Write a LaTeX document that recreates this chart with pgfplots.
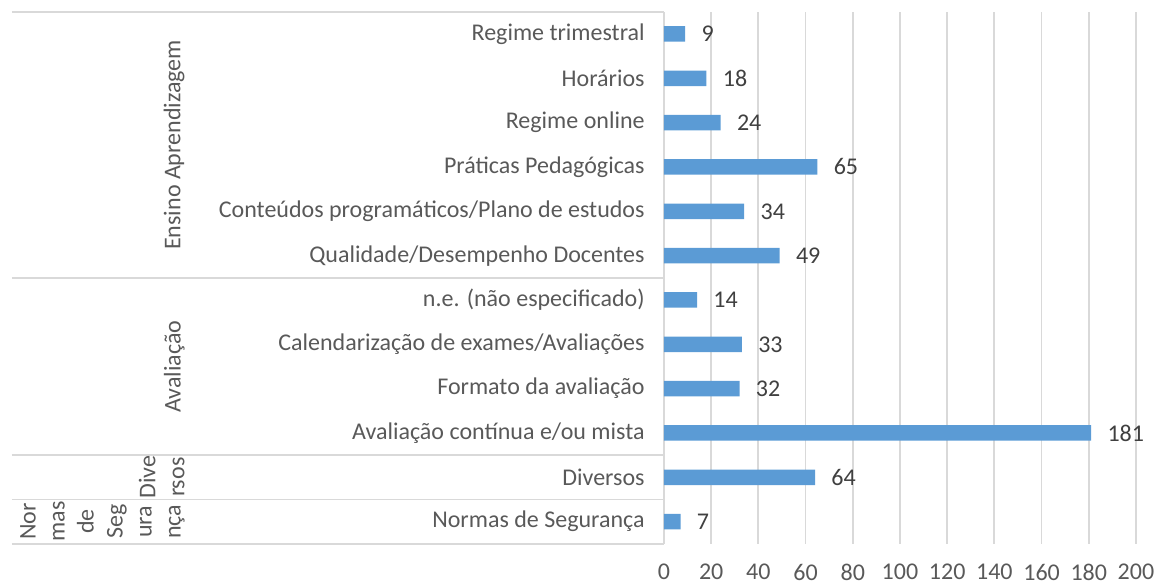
\documentclass[border=0pt]{standalone}
\usepackage{pgfplots}
\pgfplotsset{compat=1.18}
\usepackage{pgfplotstable}
\usepackage{fontspec}
\setmainfont{Carlito}
\definecolor{barblue}{HTML}{5B9BD5}
\definecolor{txt}{HTML}{595959}
\definecolor{lbl}{HTML}{404040}
\definecolor{grd}{HTML}{D9D9D9}
\pgfplotstableread{
i v
0 7
1 64
2 181
3 32
4 33
5 14
6 49
7 34
8 65
9 24
10 18
11 9
}\datatab
\begin{document}
\begin{tikzpicture}
\begin{axis}[
  name=ax,
  scale only axis,
  width=236pt, height=266pt,
  xmin=0, xmax=200,
  ymin=-0.5, ymax=11.5,
  xtick={0,20,...,200},
  ytick={0,...,11},
  yticklabels={Normas de Segurança, Diversos, Avaliação contínua e/ou mista, Formato da avaliação, Calendarização de exames/Avaliações, n.e. (não especificado), Qualidade/Desempenho Docentes, Conteúdos programáticos/Plano de estudos, Práticas Pedagógicas, Regime online, {Horários\ }, Regime trimestral},
  axis line style={draw=none},
  major tick length=0pt,
  xmajorgrids,
  grid style={grd, line width=0.9pt},
  /pgf/number format/assume math mode=true,
  tick label style={font=\fontsize{12}{14}\selectfont, text=txt},
  yticklabel style={anchor=east, inner sep=0pt, xshift=-9.5pt},
  xticklabel style={anchor=north, inner sep=0pt, yshift=-10pt},
  clip=false,
]
\addplot[xbar, fill=barblue, draw=none, bar width=0.35,
  nodes near coords, point meta=x,
  every node near coord/.style={anchor=west, inner sep=0pt, xshift=8pt, font=\fontsize{12}{14}\selectfont, text=lbl}]
  table[x=v, y=i] {\datatab};
\foreach \yy in {11.5,5.5,1.5,0.5,-0.5}{
  \edef\tmp{\noexpand\draw[grd, line width=0.9pt] ([xshift=-326pt]axis cs:0,\yy) -- (axis cs:0,\yy);}
  \tmp
}
\node[rotate=90, anchor=south, inner sep=0pt, align=center, text=txt, font=\fontsize{12}{14.5}\selectfont] at ([xshift=-239.5pt]axis cs:0,8.5) {Ensino Aprendizagem};
\node[rotate=90, anchor=south, inner sep=0pt, align=center, text=txt, font=\fontsize{12}{14.5}\selectfont] at ([xshift=-239.5pt]axis cs:0,3.5) {Avaliação};
\node[rotate=90, anchor=south, inner sep=0pt, align=center, text=txt, font=\fontsize{12}{14.5}\selectfont] at ([xshift=-239.5pt]axis cs:0,1) {Dive\\rsos};
\node[rotate=90, anchor=south, inner sep=0pt, align=center, text=txt, font=\fontsize{12}{14.5}\selectfont] at ([xshift=-239.5pt]axis cs:0,0) {Nor\\mas\\de\\Seg\\ura\\nça};
\end{axis}
\pgfresetboundingbox
\path[use as bounding box] ([xshift=-332pt,yshift=5.9pt]ax.north west) rectangle ([xshift=246.5pt,yshift=-20.4pt]ax.south west);
\end{tikzpicture}
\end{document}
